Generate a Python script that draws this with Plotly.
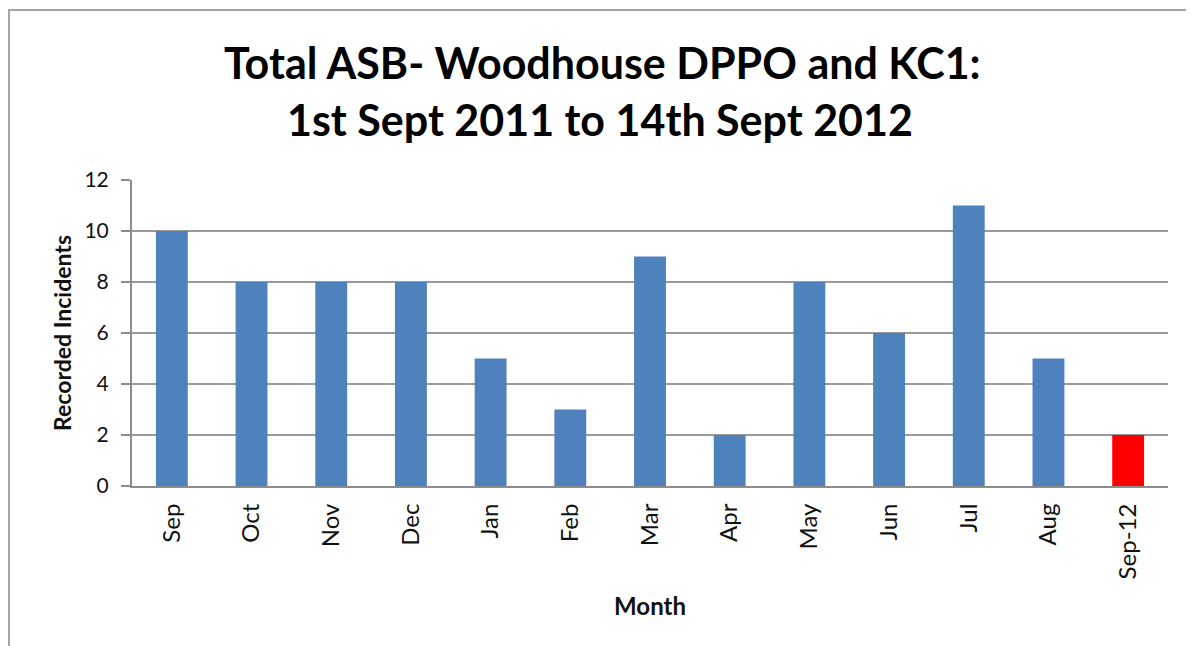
import plotly.graph_objects as go

months = ["Sep", "Oct", "Nov", "Dec", "Jan", "Feb", "Mar", "Apr", "May", "Jun", "Jul", "Aug", "Sep-12"]
incidents = [10, 8, 8, 8, 5, 3, 9, 2, 8, 6, 11, 5, 2]
bar_colors = ["#4F81BD"] * 12 + ["#FF0000"]
y_ticks = [0, 2, 4, 6, 8, 10, 12]
title_lines = ["Total ASB- Woodhouse DPPO and KC1:", "1st Sept 2011 to 14th Sept 2012"]

OFF = 8  # page body offset
W, H = 1194 - OFF, 646 - OFF
L, R, T, B = 132 - OFF, 1168 - OFF, 180 - OFF, 486 - OFF

def px(x):
    return (x - OFF - L) / (R - L)

def py(y):
    return (B - (y - OFF)) / (B - T)

FONT = "Lato"

fig = go.Figure(go.Bar(
    x=months, y=incidents, marker=dict(color=bar_colors, line=dict(width=0)),
    width=0.4,
))

fig.update_layout(
    width=W, height=H,
    margin=dict(l=L, r=W - R, t=T, b=H - B),
    paper_bgcolor="white", plot_bgcolor="white",
    showlegend=False,
    font=dict(family=FONT, color="#111111"),
    xaxis=dict(
        type="category", tickangle=-90, showgrid=False,
        showline=True, linecolor="#8c8c8c", linewidth=2,
        ticks="", tickfont=dict(size=24, family=FONT, color="#111111"),
        ticklabelstandoff=6,
        title=dict(text="<b>Month</b>", font=dict(size=24, family=FONT, color="#111111"), standoff=20),
        range=[-0.5, 12.5],
    ),
    yaxis=dict(
        range=[0, 12], tickvals=y_ticks, showgrid=True, gridcolor="#9a9a9a", gridwidth=1.5,
        showline=True, linecolor="#8c8c8c", linewidth=2,
        ticks="outside", ticklen=9, tickcolor="#8c8c8c", tickwidth=1.5,
        tickfont=dict(size=21, family=FONT, color="#111111"),
        ticklabelstandoff=8,
        zeroline=False,
        title=dict(text="<b>Recorded Incidents</b>", font=dict(size=23, family=FONT, color="#111111"), standoff=6),
    ),
    shapes=[dict(type="rect", xref="paper", yref="paper",
                 x0=px(9), x1=px(1220), y0=py(680), y1=py(10),
                 line=dict(color="#a6a6a6", width=2), fillcolor="rgba(0,0,0,0)", layer="below")],
    annotations=[
        dict(text="<b>%s</b>" % title_lines[0], xref="paper", yref="paper", x=px(602), y=py(62),
             showarrow=False, xanchor="center", yanchor="middle",
             font=dict(size=43, family=FONT, color="#000000")),
        dict(text="<b>%s</b>" % title_lines[1], xref="paper", yref="paper", x=px(600), y=py(119),
             showarrow=False, xanchor="center", yanchor="middle",
             font=dict(size=43, family=FONT, color="#000000")),
    ],
)

fig.write_html("out.html")
